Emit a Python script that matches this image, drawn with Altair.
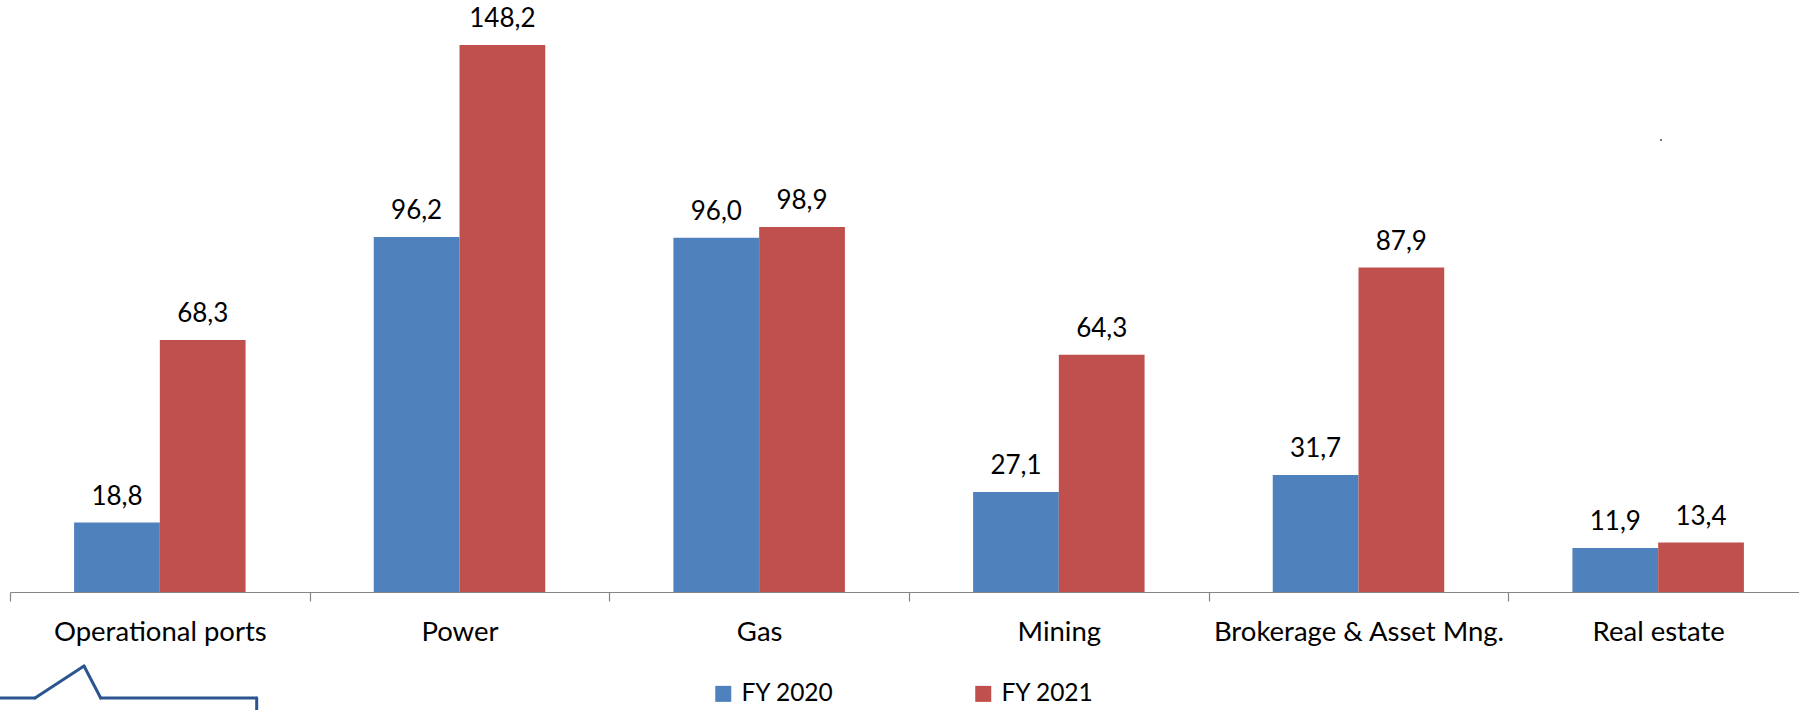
import altair as alt
import pandas as pd

categories = ["Operational ports", "Power", "Gas", "Mining", "Brokerage & Asset Mng.", "Real estate"]
fy2020 = [18.8, 96.2, 96.0, 27.1, 31.7, 11.9]
fy2021 = [68.3, 148.2, 98.9, 64.3, 87.9, 13.4]
series = ["FY 2020", "FY 2021"]
colors = ["#4F81BD", "#C0504D"]

rows = []
for c, a, b in zip(categories, fy2020, fy2021):
    rows.append({"category": c, "series": series[0], "value": a})
    rows.append({"category": c, "series": series[1], "value": b})
df = pd.DataFrame(rows)

FONT = "Lato"
AXIS_FS = 27.5
LABEL_FS = 26
LEGEND_FS = 24.5

x_enc = alt.X(
    "category:N", sort=categories, title=None,
    scale=alt.Scale(range=[0, 1798], paddingInner=0, paddingOuter=0),
    axis=alt.Axis(labelAngle=0, tickBand="extent", tickSize=9, labelPadding=39,
                  labelBaseline="alphabetic", domainColor="#868686", tickColor="#868686",
                  domainWidth=1.2, tickWidth=1.2,
                  labelFont=FONT, labelFontSize=AXIS_FS, labelColor="black", grid=False,
                  labelLimit=500),
)
xo_enc = alt.XOffset("series:N", sort=series,
                     scale=alt.Scale(paddingInner=0, paddingOuter=0.7475))
y_enc = alt.Y("value:Q", scale=alt.Scale(domain=[0, 160.4], nice=False, zero=True), axis=None)

base = alt.Chart(df)

bars = base.mark_bar().encode(
    x=x_enc,
    xOffset=xo_enc,
    y=y_enc,
    color=alt.Color(
        "series:N",
        scale=alt.Scale(domain=series, range=colors),
        legend=alt.Legend(
            orient="none", legendX=701, legendY=681.5, direction="horizontal",
            title=None, symbolType="square", symbolSize=256, symbolStrokeWidth=0,
            symbolOpacity=1, labelFont=FONT, labelFontSize=LEGEND_FS, labelColor="black",
            labelOffset=6, columnPadding=137, padding=0,
        ),
    ),
)

texts = base.transform_calculate(
    label="replace(format(datum.value, '.1f'), '.', ',')"
).mark_text(baseline="alphabetic", dy=-18, font=FONT, fontSize=LABEL_FS, color="black").encode(
    x=x_enc, xOffset=xo_enc, y=y_enc, text="label:N"
)

# decorative logo fragment at bottom-left and a small stray dot
deco_segments = [
    (-10, 698, 25, 698),
    (25, 698, 74, 666),
    (74, 666, 90.7, 698),
    (90.7, 698, 246.7, 698),
    (246.7, 698, 246.7, 716),
]
layers = [bars, texts]
for (x1, y1, x2, y2) in deco_segments:
    layers.append(
        alt.Chart(alt.Data(values=[{}])).mark_rule(
            color="#2B5591", strokeWidth=3, strokeCap="round"
        ).encode(x=alt.value(x1), y=alt.value(y1), x2=alt.value(x2), y2=alt.value(y2))
    )
layers.append(
    alt.Chart(alt.Data(values=[{}])).mark_rule(color="#444444", strokeWidth=1.5).encode(
        x=alt.value(1651), y=alt.value(139), y2=alt.value(141)
    )
)

chart = alt.layer(*layers).properties(
    width=1789, height=592,
    autosize=alt.AutoSizeParams(type="none"),
    padding={"left": 10, "top": 0, "right": 0, "bottom": 118},
    background="white",
).configure_view(stroke=None)

chart.save("out.html", embed_options={"renderer": "svg", "actions": False})
